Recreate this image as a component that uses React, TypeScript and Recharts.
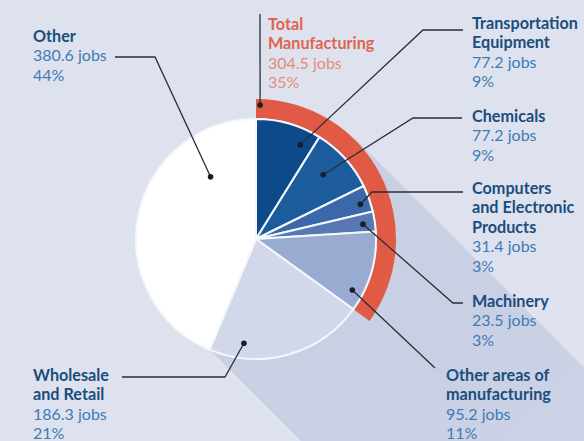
import { PieChart, Pie, Cell } from "recharts";

// jobs by sector (thousands)
const NAMES = [
  "Transportation\nEquipment",
  "Chemicals",
  "Computers\nand Electronic\nProducts",
  "Machinery",
  "Other areas of\nmanufacturing",
  "Wholesale\nand Retail",
  "Other",
];
const JOBS = [77.2, 77.2, 31.4, 23.5, 95.2, 186.3, 380.6];
const SHARES = ["9%", "9%", "3%", "3%", "11%", "21%", "44%"];
const MFG_NAME = "Total\nManufacturing";
const MFG_SHARE = "35%";
const MFG_COUNT = 5; // first five slices are manufacturing

const COLORS = ["#0c4a8a", "#1d5c9c", "#3a68a8", "#5878b4", "#99abd1", "#d2d8ea", "#ffffff"];
const RED = "#e05a45";
const BG = "#dde2ee";

const W = 584;
const H = 441;
const CX = 256;
const CY = 239;
const R = 120;
const RING_IN = 121;
const RING_OUT = 140;
const LH = 19.4;
const RAD = Math.PI / 180;

// label placement: t = position along slice, r = dot radius, path = leader line after the dot
type Place = { t: number; r: number; path: number[][]; x: number; y: number };
const PLACES: Place[] = [
  { t: 0.79, r: 104, path: [[423, 30], [463, 30]], x: 472, y: 29 },
  { t: 0.45, r: 93, path: [[413, 118], [462, 118]], x: 472, y: 122 },
  { t: 0.6, r: 110, path: [[372, 192], [463, 192]], x: 472, y: 194 },
  { t: 0.55, r: 108, path: [[453, 303], [463, 303]], x: 472, y: 307 },
  { t: 0.8, r: 109, path: [[435, 368]], x: 446, y: 381 },
  { t: 0.79, r: 105, path: [[225, 377], [122, 377]], x: 33, y: 381 },
  { t: 0.77, r: 77, path: [[155, 57], [115, 57]], x: 33, y: 42 },
];
const MFG_PLACE: Place = { t: 0.014, r: 134, path: [[260, 14]], x: 268, y: 30 };

const FONT = "Lato, 'Open Sans', sans-serif";

const sliceData = NAMES.map((name, i) => ({ name, value: JOBS[i], share: SHARES[i] }));
const mfgTotal = JOBS.slice(0, MFG_COUNT).reduce((a, b) => a + b, 0);
const allTotal = JOBS.reduce((a, b) => a + b, 0);
const ringData = [
  { name: MFG_NAME, value: mfgTotal, share: MFG_SHARE },
  { name: "rest", value: allTotal - mfgTotal, share: "" },
];

function Leader({ props, place, title, sub, red }: { props: any; place: Place; title: string; sub: string; red?: boolean }) {
  const { cx, cy, startAngle, endAngle } = props;
  const a = startAngle + (endAngle - startAngle) * place.t;
  const dx = cx + place.r * Math.cos(-a * RAD);
  const dy = cy + place.r * Math.sin(-a * RAD);
  const pts = [[dx, dy], ...place.path].map((p) => p.join(",")).join(" ");
  const lines = title.split("\n");
  const titleColor = red ? "#e0644f" : "#1b4d7d";
  const subColor = red ? "#e88a79" : "#3f7bb5";
  return (
    <g>
      <polyline points={pts} fill="none" stroke="#2a2e36" strokeWidth={1.3} />
      <circle cx={dx} cy={dy} r={2.8} fill="#1a1d24" />
      {lines.map((l, i) => (
        <text key={"t" + i} x={place.x} y={place.y + i * LH} fill={titleColor} fontSize={16.2} fontWeight={700} fontFamily={FONT}>
          {l}
        </text>
      ))}
      <text x={place.x} y={place.y + lines.length * LH} fill={subColor} fontSize={16} fontFamily={FONT}>
        {props.value.toFixed(1)} jobs
      </text>
      <text x={place.x} y={place.y + (lines.length + 1) * LH} fill={subColor} fontSize={16} fontFamily={FONT}>
        {sub}
      </text>
    </g>
  );
}

const sliceLabel = (props: any) => (
  <Leader props={props} place={PLACES[props.index]} title={NAMES[props.index]} sub={SHARES[props.index]} />
);

const ringLabel = (props: any) =>
  props.index === 0 ? <Leader props={props} place={MFG_PLACE} title={MFG_NAME} sub={MFG_SHARE} red /> : <g />;

// long diagonal shadow behind the pie
function Shadow() {
  const k = Math.SQRT1_2;
  const up = 141; // tangent to ring
  const lo = 111;
  const L = 600;
  const a = [CX + up * k, CY - up * k];
  const b = [CX - lo * k, CY + lo * k];
  const pts = [a, [a[0] + L, a[1] + L], [b[0] + L, b[1] + L], b].map((p) => p.join(",")).join(" ");
  return (
    <svg width={W} height={H} style={{ position: "absolute", left: 0, top: 0 }}>
      <defs>
        <linearGradient id="sh" x1="0" y1="0" x2="1" y2="1">
          <stop offset="0.3" stopColor="#c9d0e4" stopOpacity={1} />
          <stop offset="1" stopColor="#c9d0e4" stopOpacity={0.25} />
        </linearGradient>
      </defs>
      <rect width={W} height={H} fill={BG} />
      <polygon points={pts} fill="url(#sh)" />
    </svg>
  );
}

export default function App() {
  return (
    <div style={{ position: "absolute", left: 0, top: 0, width: W, height: H, overflow: "hidden" }}>
      <Shadow />
      <div style={{ position: "absolute", left: 0, top: 0 }}>
        <PieChart width={W} height={H} margin={{ top: 0, right: 0, bottom: 0, left: 0 }}>
          <Pie
            data={ringData}
            dataKey="value"
            cx={CX}
            cy={CY}
            innerRadius={RING_IN}
            outerRadius={RING_OUT}
            startAngle={90}
            endAngle={-270}
            stroke="none"
            label={ringLabel}
            labelLine={false}
            isAnimationActive={false}
          >
            <Cell fill={RED} />
            <Cell fill="none" />
          </Pie>
          <Pie
            data={sliceData}
            dataKey="value"
            cx={CX}
            cy={CY}
            innerRadius={0}
            outerRadius={R}
            startAngle={90}
            endAngle={-270}
            stroke="#f4f7fc"
            strokeWidth={2}
            label={sliceLabel}
            labelLine={false}
            isAnimationActive={false}
          >
            {sliceData.map((d, i) => (
              <Cell key={d.name} fill={COLORS[i]} />
            ))}
          </Pie>
        </PieChart>
      </div>
    </div>
  );
}
